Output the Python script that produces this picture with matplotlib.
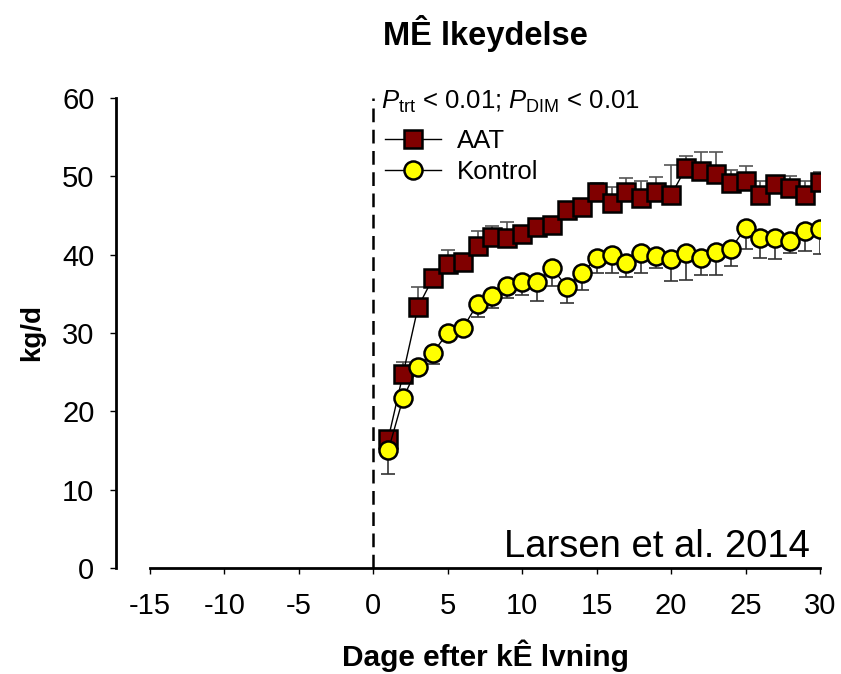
import matplotlib
matplotlib.use("Agg")
import matplotlib.pyplot as plt
from matplotlib.lines import Line2D
import numpy as np

plt.rcParams["font.family"] = ["Liberation Sans", "DejaVu Sans"]
plt.rcParams["mathtext.fontset"] = "custom"
plt.rcParams["mathtext.rm"] = "Liberation Sans"
plt.rcParams["mathtext.it"] = "Liberation Sans:italic"
plt.rcParams["axes.unicode_minus"] = False

# days after calving
days = list(range(1, 31))

# milk yield, kg/d
aat = [16.5, 24.8, 33.3, 37.0, 38.8, 39.1, 41.1, 42.3, 42.1, 42.6,
       43.5, 43.8, 45.7, 46.1, 48.0, 46.6, 48.0, 47.2, 48.0, 47.6,
       51.1, 50.7, 50.3, 49.2, 49.4, 47.6, 49.0, 48.5, 47.6, 49.3]
aat_se = [0.5, 1.5, 2.6, 0.5, 1.8, 0.5, 1.9, 1.4, 2.1, 0.5,
          0.5, 0.5, 0.5, 0.5, 1.2, 2.0, 1.8, 2.2, 1.9, 3.8,
          1.5, 2.4, 2.8, 1.6, 1.9, 1.8, 1.0, 1.5, 1.8, 1.3]

kontrol = [15.0, 21.7, 25.7, 27.5, 30.0, 30.6, 33.7, 34.7, 36.0, 36.5,
           36.5, 38.3, 35.9, 37.6, 39.6, 39.9, 38.9, 40.2, 39.8, 39.5,
           40.2, 39.6, 40.3, 40.7, 43.4, 42.1, 42.1, 41.8, 43.0, 43.3]
kontrol_se = [3.0, 0.8, 0.5, 1.5, 0.5, 0.5, 1.7, 1.5, 1.5, 1.6,
              2.4, 2.3, 2.1, 2.1, 2.0, 2.3, 1.7, 2.6, 1.5, 2.9,
              3.4, 2.2, 2.9, 2.2, 2.7, 2.5, 2.7, 1.6, 2.5, 3.2]

x_ticks = [-15, -10, -5, 0, 5, 10, 15, 20, 25, 30]
y_ticks = [0, 10, 20, 30, 40, 50, 60]

fig = plt.figure(figsize=(8.41, 6.74), dpi=100)
ax = fig.add_axes([0.1784, 0.1573, 0.7966, 0.6973])

zero = np.zeros(len(days))

# one-sided error bars: AAT upwards, Kontrol downwards
ax.errorbar(days, aat, yerr=[zero, aat_se], fmt="none", ecolor="#555555",
            elinewidth=1.2, capsize=5, capthick=1.2, zorder=2)
ax.plot(days, aat, color="black", lw=1, marker="s", ms=12.5,
        mfc="#800000", mec="black", mew=1.8, zorder=3)

ax.errorbar(days, kontrol, yerr=[kontrol_se, zero], fmt="none", ecolor="#333333",
            elinewidth=1.2, capsize=5, capthick=1.2, zorder=4)
ax.plot(days, kontrol, color="black", lw=1, marker="o", ms=13,
        mfc="#ffff00", mec="black", mew=1.8, zorder=5)

ax.axvline(0, color="black", lw=1.8, dashes=(5.5, 3), zorder=1)

ax.set_xlim(-15, 30)
ax.set_ylim(0, 60)
ax.set_xticks(x_ticks)
ax.set_yticks(y_ticks)
ax.tick_params(labelsize=21, length=4.5, width=1, direction="out")
ax.tick_params(axis="x", pad=13)
ax.tick_params(axis="y", pad=11)

ax.spines["top"].set_visible(False)
ax.spines["right"].set_visible(False)
ax.spines["left"].set_position(("outward", 24.5))
ax.spines["left"].set_linewidth(2)
ax.spines["bottom"].set_linewidth(2)

ax.set_xlabel("Dage efter kÊ lvning", fontsize=21.5, fontweight="bold", labelpad=14)
ax.set_ylabel("kg/d", fontsize=20, fontweight="bold", labelpad=12)
ax.set_title("MÊ lkeydelse", fontsize=23.5, fontweight="bold", pad=38)

ax.text(0.5, 59.5, r"$P_{\mathrm{trt}}$ < 0.01; $P_{\mathrm{DIM}}$ < 0.01",
        fontsize=18.5, ha="left", va="center")

handles = [
    Line2D([], [], color="black", lw=1, marker="s", ms=12.5,
           mfc="#800000", mec="black", mew=1.8, label="AAT"),
    Line2D([], [], color="black", lw=1, marker="o", ms=13,
           mfc="#ffff00", mec="black", mew=1.8, label="Kontrol"),
]
ax.legend(handles=handles, loc="upper left", bbox_to_anchor=(0.335, 0.955),
          frameon=False, fontsize=18.5, handlelength=2.2, handletextpad=0.62,
          labelspacing=0.25, borderaxespad=0)

ax.text(29.3, 0.4, "Larsen et al. 2014", fontsize=27.5, ha="right", va="bottom")

fig.savefig("out.png", dpi=100)
